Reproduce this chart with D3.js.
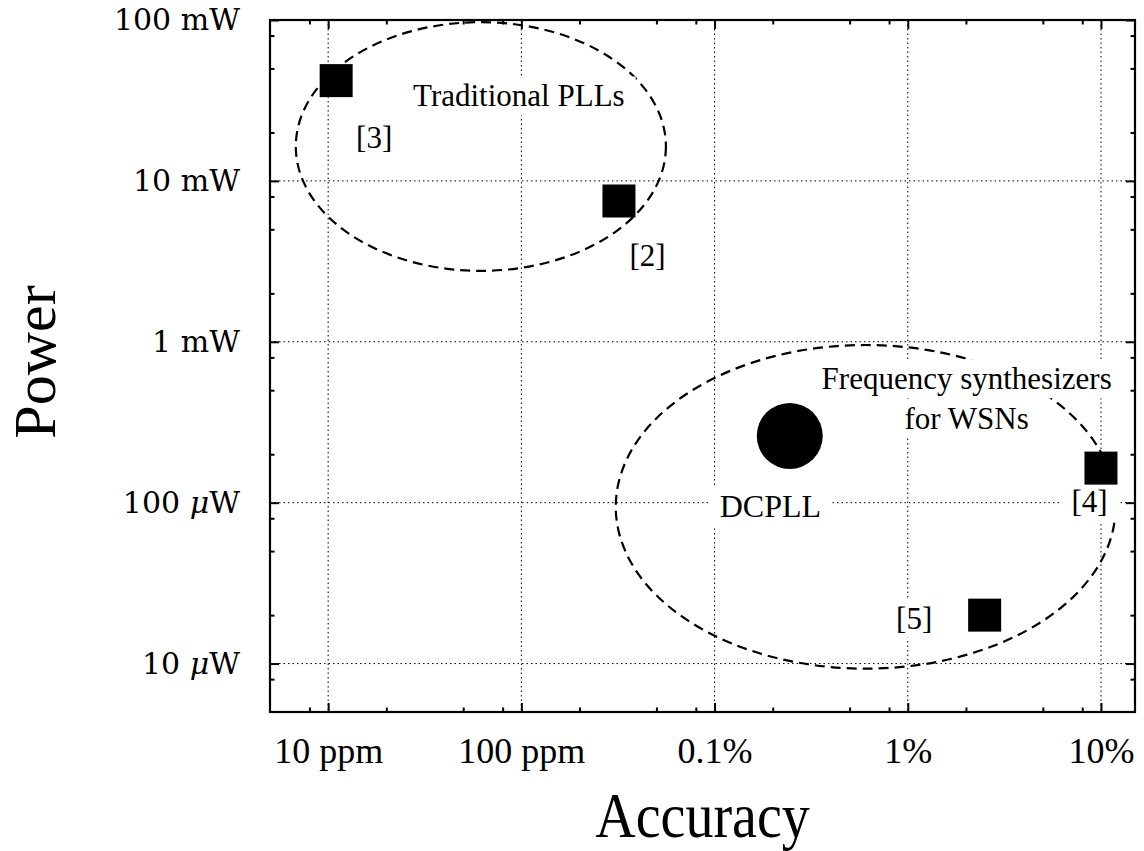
<!DOCTYPE html>
<html>
<head>
<meta charset="utf-8">
<script src="https://cdn.jsdelivr.net/npm/d3@7"></script>
<style>
  html, body { margin: 0; padding: 0; background: #fff; }
  svg { display: block; }
</style>
</head>
<body>
<svg id="chart" width="1144" height="851"></svg>
<script>
// ---- Data: frequency accuracy (fraction) vs. power (W) ----
const refNames    = ["[3]", "[2]", "[4]", "[5]"];
const refAccuracy = [1.1e-5, 3.2e-4, 0.1, 0.025];
const refPower    = [42e-3, 7.5e-3, 164e-6, 20e-6];

const workName     = "DCPLL";
const workAccuracy = [2.45e-3];
const workPower    = [260e-6];

// Design-space regions (bounding extents in data units)
const regionLines       = [["Traditional PLLs"], ["Frequency synthesizers", "for WSNs"]];
const regionAccuracyMin = [6.8e-6, 3.08e-4];
const regionAccuracyMax = [5.6e-4, 0.119];
const regionPowerMin    = [2.76e-3, 9.3e-6];
const regionPowerMax    = [0.097, 9.55e-4];

// Axis ticks
const xTickValues = [1e-5, 1e-4, 1e-3, 1e-2, 1e-1];
const xTickLabels = ["10 ppm", "100 ppm", "0.1%", "1%", "10%"];
const yTickValues = [1e-1, 1e-2, 1e-3, 1e-4, 1e-5];
const yTickNumbers = ["100", "10", "1", "100", "10"];
const yTickUnits   = ["mW", "mW", "mW", "\u03BCW", "\u03BCW"];
const minorSteps   = [2, 5, 8];

// ---- Layout ----
const plot = { left: 270, top: 20, right: 1135, bottom: 712 };
const serif = "'Liberation Serif', 'Times New Roman', serif";
const labelPadX = 11, labelPadY = 2;
// label placement relative to each marker (px, text baseline)
const refLabelDx = [38, 28.5, -11.5, -70.5];
const refLabelDy = [67, 65, 44, 13.6];
const workLabelDx = -19.4, workLabelDy = 81;
// region caption placement relative to each region's centre (px)
const regionLabelDx = [38, 101];
const regionLabelDy = [-40, -117.5];
const regionLineGap = 40;

const svg = d3.select("#chart");

const x = d3.scaleLog().domain([5e-6, 0.15]).range([plot.left, plot.right]);
const y = d3.scaleLog().domain([5e-6, 0.1]).range([plot.bottom, plot.top]);

function minorValues(scale) {
  const [lo, hi] = scale.domain();
  const out = [];
  for (let e = -7; e <= 0; e++) {
    minorSteps.forEach(m => {
      const v = m * Math.pow(10, e);
      if (v > lo && v < hi) out.push(v);
    });
  }
  return out;
}

// ---- Grid (dotted, at decades) ----
const grid = svg.append("g").attr("class", "grid")
  .attr("stroke", "#000").attr("stroke-width", 1).attr("stroke-dasharray", "1.5,3");
grid.selectAll("line.gx").data(xTickValues).join("line").attr("class", "gx")
  .attr("x1", d => x(d)).attr("x2", d => x(d))
  .attr("y1", plot.top).attr("y2", plot.bottom);
grid.selectAll("line.gy").data(yTickValues).join("line").attr("class", "gy")
  .attr("x1", plot.left).attr("x2", plot.right)
  .attr("y1", d => y(d)).attr("y2", d => y(d));

// ---- Axes (inward ticks on all four sides) ----
function styleAxis(g) {
  g.select(".domain").remove();
  g.selectAll(".tick line").attr("stroke", "#000").attr("stroke-width", 2);
}
const majorLen = 9, minorLen = 4.5;

svg.append("g").attr("transform", `translate(0,${plot.bottom})`)
  .call(d3.axisBottom(x).tickValues(xTickValues).tickSize(-majorLen).tickPadding(25.5)
    .tickFormat((d, i) => xTickLabels[i]))
  .call(styleAxis)
  .call(g => g.selectAll("text").attr("font-family", serif).attr("font-size", 36).attr("fill", "#000"));
svg.append("g").attr("transform", `translate(0,${plot.bottom})`)
  .call(d3.axisBottom(x).tickValues(minorValues(x)).tickSize(-minorLen).tickFormat(""))
  .call(styleAxis);
svg.append("g").attr("transform", `translate(0,${plot.top})`)
  .call(d3.axisTop(x).tickValues(xTickValues).tickSize(-majorLen).tickFormat(""))
  .call(styleAxis);
svg.append("g").attr("transform", `translate(0,${plot.top})`)
  .call(d3.axisTop(x).tickValues(minorValues(x)).tickSize(-minorLen).tickFormat(""))
  .call(styleAxis);

const yAxisG = svg.append("g").attr("transform", `translate(${plot.left},0)`)
  .call(d3.axisLeft(y).tickValues(yTickValues).tickSize(-majorLen).tickPadding(30)
    .tickFormat(""))
  .call(styleAxis);
yAxisG.selectAll(".tick text")
  .attr("font-family", "'DejaVu Serif', serif").attr("font-size", 30).attr("fill", "#000")
  .each(function(d, i) {
    const t = d3.select(this);
    t.append("tspan").text(yTickNumbers[i] + " ");
    const unit = yTickUnits[i];
    if (unit.startsWith("\u03BC")) {
      t.append("tspan").attr("font-style", "italic").text("\u03BC");
      t.append("tspan").text(unit.slice(1));
    } else {
      t.append("tspan").text(unit);
    }
  });
svg.append("g").attr("transform", `translate(${plot.left},0)`)
  .call(d3.axisLeft(y).tickValues(minorValues(y)).tickSize(-minorLen).tickFormat(""))
  .call(styleAxis);
svg.append("g").attr("transform", `translate(${plot.right},0)`)
  .call(d3.axisRight(y).tickValues(yTickValues).tickSize(-majorLen).tickFormat(""))
  .call(styleAxis);
svg.append("g").attr("transform", `translate(${plot.right},0)`)
  .call(d3.axisRight(y).tickValues(minorValues(y)).tickSize(-minorLen).tickFormat(""))
  .call(styleAxis);

// ---- Region ellipses ----
const regions = regionLines.map((lines, i) => {
  const x0 = x(regionAccuracyMin[i]), x1 = x(regionAccuracyMax[i]);
  const y0 = y(regionPowerMax[i]), y1 = y(regionPowerMin[i]);
  return { lines, cx: (x0 + x1) / 2, cy: (y0 + y1) / 2, rx: (x1 - x0) / 2, ry: (y1 - y0) / 2, i };
});
svg.append("g").selectAll("ellipse").data(regions).join("ellipse")
  .attr("cx", d => d.cx).attr("cy", d => d.cy)
  .attr("rx", d => d.rx).attr("ry", d => d.ry)
  .attr("fill", "none").attr("stroke", "#000")
  .attr("stroke-width", 2.2).attr("stroke-dasharray", "10,6");

// ---- Opaque text labels ----
const labelLayer = svg.append("g");
function boxedLabel(px, py, txt, size) {
  const g = labelLayer.append("g");
  const t = g.append("text")
    .attr("x", px).attr("y", py)
    .attr("text-anchor", "middle")
    .attr("font-family", serif).attr("font-size", size).attr("fill", "#000")
    .text(txt);
  const b = t.node().getBBox();
  g.insert("rect", "text")
    .attr("x", b.x - labelPadX).attr("y", b.y - labelPadY)
    .attr("width", b.width + 2 * labelPadX).attr("height", b.height + 2 * labelPadY)
    .attr("fill", "#fff");
}

regions.forEach(r => {
  r.lines.forEach((line, k) => {
    boxedLabel(r.cx + regionLabelDx[r.i], r.cy + regionLabelDy[r.i] + k * regionLineGap, line, 31);
  });
});
refNames.forEach((name, i) => {
  boxedLabel(x(refAccuracy[i]) + refLabelDx[i], y(refPower[i]) + refLabelDy[i], name, 31);
});
boxedLabel(x(workAccuracy[0]) + workLabelDx, y(workPower[0]) + workLabelDy, workName, 32);

// ---- Markers ----
const sq = 33;
svg.append("g").selectAll("rect").data(refNames).join("rect")
  .attr("x", (d, i) => x(refAccuracy[i]) - sq / 2)
  .attr("y", (d, i) => y(refPower[i]) - sq / 2)
  .attr("width", sq).attr("height", sq)
  .attr("fill", "#000");
svg.append("g").selectAll("circle").data(workAccuracy).join("circle")
  .attr("cx", (d, i) => x(workAccuracy[i]))
  .attr("cy", (d, i) => y(workPower[i]))
  .attr("r", 33)
  .attr("fill", "#000");

// ---- Frame ----
svg.append("rect")
  .attr("x", plot.left).attr("y", plot.top)
  .attr("width", plot.right - plot.left).attr("height", plot.bottom - plot.top)
  .attr("fill", "none").attr("stroke", "#000").attr("stroke-width", 2.2);

// ---- Axis titles ----
svg.append("text")
  .attr("transform", `translate(${(plot.left + plot.right) / 2},837) scale(0.875,1)`)
  .attr("text-anchor", "middle")
  .attr("font-family", serif).attr("font-size", 64).attr("fill", "#000")
  .text("Accuracy");
svg.append("text")
  .attr("transform", "translate(55,362) rotate(-90)")
  .attr("text-anchor", "middle")
  .attr("font-family", serif).attr("font-size", 60).attr("fill", "#000")
  .text("Power");
</script>
</body>
</html>
